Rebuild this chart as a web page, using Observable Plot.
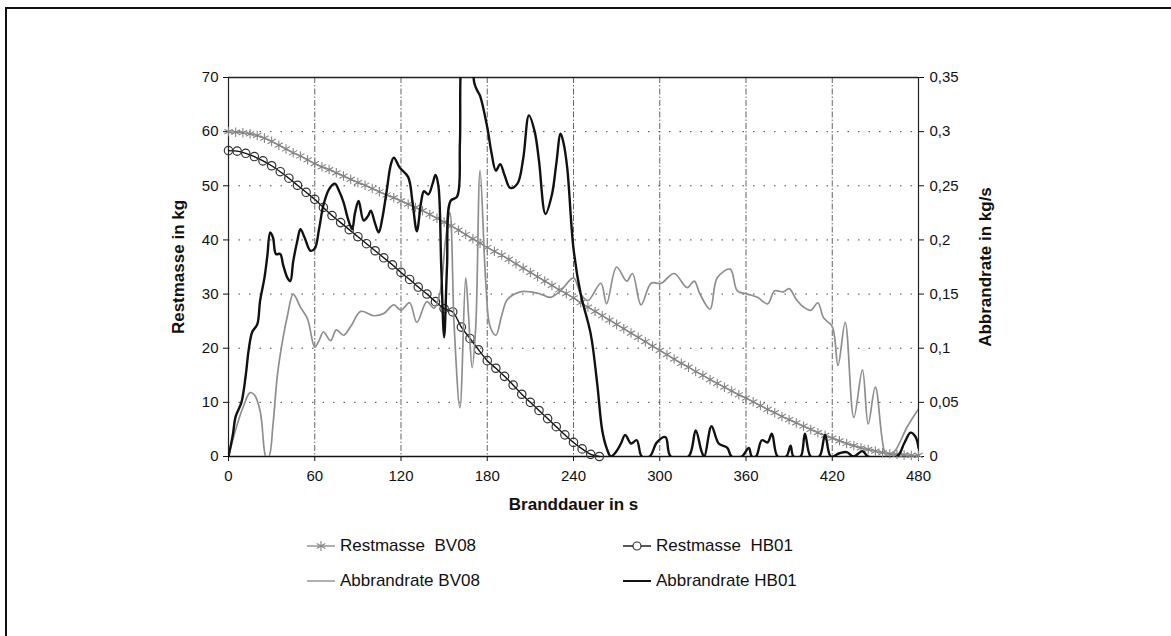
<!DOCTYPE html>
<html>
<head>
<meta charset="utf-8">
<script src="https://cdn.jsdelivr.net/npm/d3@7"></script>
<script src="https://cdn.jsdelivr.net/npm/@observablehq/plot@0.6"></script>
<style>
  html, body { margin: 0; padding: 0; background: #fff; }
  body { width: 1171px; height: 636px; position: relative; overflow: hidden; font-family: "Liberation Sans", Arial, sans-serif; }
  #frame { position: absolute; left: 5px; top: 7px; width: 1200px; height: 700px; border-top: 2px solid #111; border-left: 2px solid #111; pointer-events: none; }
  #chart svg { display: block; }
  #legend { position: relative; height: 111px; font-size: 17px; color: #111; }
  .item { position: absolute; display: flex; align-items: center; white-space: pre; }
  .item svg { margin-right: 3px; }
</style>
</head>
<body>
<div id="chart"></div>
<div id="legend"></div>
<div id="frame"></div>
<script>
// ---------- data ----------
const xTicks = [0, 60, 120, 180, 240, 300, 360, 420, 480];
const yTicks = [0, 10, 20, 30, 40, 50, 60, 70];        // Restmasse in kg
const rateTickLabels = ["0", "0,05", "0,1", "0,15", "0,2", "0,25", "0,3", "0,35"]; // Abbrandrate in kg/s

// Restmasse BV08 (kg), every 5 s from 0 to 480
const massBV08Time = d3.range(0, 481, 5);
const massBV08 = [60.0, 59.9, 59.8, 59.6, 59.3, 58.8, 58.2, 57.5, 56.8, 56.1, 55.5, 54.8, 54.1, 53.5, 53.0, 52.4, 51.8, 51.2, 50.6, 50.1,
  49.5, 48.9, 48.3, 47.8, 47.2, 46.6, 46.0, 45.4, 44.7, 44.0, 43.3, 42.6, 41.8, 41.0, 40.2, 39.4, 38.6, 37.9, 37.2, 36.4,
  35.6, 34.8, 34.0, 33.2, 32.4, 31.6, 30.8, 30.1, 29.3, 28.4, 27.6, 26.8, 26.0, 25.2, 24.4, 23.6, 22.8, 22.0, 21.2, 20.4,
  19.6, 18.8, 18.0, 17.2, 16.5, 15.7, 15.0, 14.2, 13.5, 12.8, 12.1, 11.4, 10.8, 10.1, 9.4, 8.7, 8.1, 7.4, 6.8, 6.2,
  5.6, 5.0, 4.4, 3.9, 3.4, 2.9, 2.4, 2.0, 1.6, 1.3, 1.0, 0.7, 0.5, 0.4, 0.3, 0.2, 0.2];

// Restmasse HB01 (kg), every 6 s from 0 to 258
const massHB01Time = d3.range(0, 259, 6);
const massHB01 = [56.5, 56.4, 56.0, 55.4, 54.6, 53.7, 52.6, 51.4, 50.1, 48.8, 47.5, 46.0, 44.5, 43.2, 41.9, 40.6, 39.3, 38.0, 36.7, 35.4,
  34.0, 32.7, 31.3, 30.0, 28.6, 27.3, 26.7, 23.9, 21.8, 19.7, 17.7, 16.3, 14.8, 13.2, 11.5, 10.0, 8.5, 7.0, 5.5, 4.0,
  2.6, 1.4, 0.4, 0.0];

// Abbrandrate BV08 (kg/s)
const rateBV08Time = [0, 5, 10, 15, 18, 22, 25, 26, 28, 31, 34, 38, 41, 45, 50, 55, 60, 63, 66, 71, 75, 80, 85, 92, 101, 108, 115, 120, 126, 131,
  138, 143, 147, 151, 154, 157, 161, 165, 167, 169.5, 172, 175, 179, 182, 186, 190, 194, 203, 210, 217, 224, 231, 240, 245, 250, 259, 263, 270, 277, 281,
  287, 294, 301, 310, 319, 324, 328, 335, 340, 349, 354, 361, 368, 375, 380, 386, 390, 395, 400, 405, 410, 414, 420, 424, 429, 435, 441, 445, 450, 457,
  460, 465, 472, 480];
const rateBV08 = [0, 0.025, 0.045, 0.059, 0.057, 0.042, 0.005, 0, 0, 0.03, 0.075, 0.11, 0.13, 0.15, 0.138, 0.127, 0.101, 0.107, 0.115, 0.107, 0.117, 0.112, 0.12, 0.134, 0.13, 0.132, 0.14, 0.135, 0.142, 0.124,
  0.143, 0.137, 0.15, 0.2, 0.225, 0.12, 0.045, 0.165, 0.13, 0.082, 0.12, 0.264, 0.16, 0.12, 0.112, 0.13, 0.145, 0.152, 0.152, 0.15, 0.147, 0.153, 0.165, 0.15, 0.144, 0.16, 0.141, 0.175, 0.162, 0.169,
  0.14, 0.16, 0.16, 0.169, 0.156, 0.162, 0.15, 0.136, 0.165, 0.173, 0.153, 0.15, 0.147, 0.141, 0.153, 0.152, 0.155, 0.145, 0.138, 0.135, 0.142, 0.128, 0.12, 0.084, 0.124, 0.036, 0.08, 0.03, 0.064, 0.002,
  0, 0.008, 0.027, 0.044];

// Abbrandrate HB01 (kg/s)
const rateHB01Time = [0, 3, 5, 9, 12, 14, 16.5, 20, 22, 25, 27, 29, 31, 33, 36, 38, 41, 43, 45, 48, 50, 53, 57, 60, 63, 66, 70, 74, 77, 80,
  83, 86, 88, 90.5, 94, 97, 99, 102, 104.5, 107, 110, 113, 115, 119, 125, 128, 131, 134, 136, 139, 142, 144, 146, 148, 150, 152, 154.5, 159, 161, 163,
  166, 169, 171, 173, 175, 180, 183, 186, 189, 192, 196, 201, 205, 209, 213, 216, 220.5, 225, 228, 231, 233, 235.6, 240, 245, 252, 256.5, 260, 263, 266, 270,
  273, 276, 280, 284, 287.5, 293, 298, 304, 307.6, 320, 325, 329, 331, 336, 341, 347, 350, 357, 362, 364, 367, 371, 375, 378, 382, 388, 391, 393, 398, 401,
  405, 411, 415, 419, 425, 430, 435, 441, 445, 465, 470, 474.5, 478, 480];
const rateHB01 = [0, 0.02, 0.037, 0.05, 0.075, 0.098, 0.115, 0.122, 0.144, 0.165, 0.185, 0.207, 0.202, 0.187, 0.187, 0.177, 0.165, 0.162, 0.18, 0.2, 0.21, 0.202, 0.19, 0.192, 0.21, 0.232, 0.247, 0.252, 0.245, 0.235,
  0.22, 0.21, 0.225, 0.236, 0.218, 0.222, 0.227, 0.215, 0.207, 0.22, 0.245, 0.27, 0.276, 0.267, 0.258, 0.235, 0.208, 0.235, 0.245, 0.242, 0.252, 0.26, 0.25, 0.175, 0.11, 0.175, 0.236, 0.24, 0.29, 0.375,
  0.38, 0.37, 0.345, 0.338, 0.333, 0.304, 0.28, 0.264, 0.27, 0.26, 0.248, 0.252, 0.275, 0.315, 0.3, 0.273, 0.224, 0.242, 0.27, 0.298, 0.29, 0.267, 0.192, 0.15, 0.113, 0.067, 0.024, 0.008, 0, 0.005,
  0.012, 0.02, 0.012, 0.015, 0, 0, 0.013, 0.018, 0, 0, 0.024, 0.005, 0, 0.028, 0.012, 0.008, 0, 0, 0.008, 0, 0, 0.015, 0.013, 0.021, 0, 0, 0.01, 0, 0, 0.021,
  0, 0, 0.02, 0, 0.003, 0.004, 0, 0.005, 0, 0, 0.012, 0.022, 0.018, 0.008];

const seriesNames = ["Restmasse  BV08", "Restmasse  HB01", "Abbrandrate BV08", "Abbrandrate HB01"];
const axisTitles = {x: "Branddauer in s", yLeft: "Restmasse in kg", yRight: "Abbrandrate in kg/s"};

// ---------- tables ----------
const rateToKg = 70 / 0.35; // secondary axis: 0..0.35 kg/s mapped onto 0..70 kg
const tMassBV08 = massBV08Time.map((t, i) => ({t, v: massBV08[i]}));
const tMassHB01 = massHB01Time.map((t, i) => ({t, v: massHB01[i]}));
const tRateBV08 = rateBV08Time.map((t, i) => ({t, v: rateBV08[i] * rateToKg}));
const tRateHB01 = rateHB01Time.map((t, i) => ({t, v: rateHB01[i] * rateToKg}));

const grayLine = "#8e8e8e";
const gridDark = "#333";

const chart = Plot.plot({
  width: 1171,
  height: 525,
  marginLeft: 228,
  marginRight: 253,
  marginTop: 77,
  marginBottom: 69,
  x: {domain: [0, 480]},
  y: {domain: [0, 70]},
  style: {fontFamily: "'Liberation Sans', Arial, sans-serif", fontSize: "15px", color: "#111", background: "#fff"},
  marks: [
    Plot.gridY(yTicks.slice(1, -1), {stroke: gridDark, strokeOpacity: 0.9, strokeWidth: 1, strokeDasharray: "1.5,9"}),
    Plot.gridX(xTicks.slice(1, -1), {stroke: gridDark, strokeOpacity: 0.85, strokeWidth: 0.9, strokeDasharray: "6,2,1.5,2"}),
    Plot.ruleY([70], {stroke: "#222", strokeWidth: 1.3}),
    Plot.ruleY([0], {stroke: "#111", strokeWidth: 1.6}),
    Plot.ruleX([0, 480], {stroke: "#222", strokeWidth: 1.2}),
    Plot.axisX({ticks: xTicks, tickSize: 5, tickPadding: 9, label: null, fontSize: 15}),
    Plot.axisY({anchor: "left", ticks: yTicks, tickSize: 5, tickPadding: 5, label: null, fontSize: 15}),
    Plot.axisY({anchor: "right", ticks: yTicks, tickSize: 5, tickPadding: 6, label: null, fontSize: 15,
      tickFormat: d => rateTickLabels[yTicks.indexOf(d)]}),
    // Restmasse BV08
    Plot.line(tMassBV08, {x: "t", y: "v", stroke: grayLine, strokeWidth: 1.5, curve: "catmull-rom"}),
    Plot.dot(tMassBV08, {x: "t", y: "v", symbol: "asterisk", r: 4.5, stroke: "#858585", strokeWidth: 1.1}),
    // Restmasse HB01
    Plot.line(tMassHB01, {x: "t", y: "v", stroke: "#111", strokeWidth: 1.4, curve: "catmull-rom"}),
    Plot.dot(tMassHB01, {x: "t", y: "v", symbol: "circle", r: 4.2, stroke: "#333", strokeWidth: 1.2, fill: "none"}),
    // Abbrandrate BV08
    Plot.line(tRateBV08, {x: "t", y: "v", stroke: grayLine, strokeWidth: 1.7, curve: "catmull-rom", clip: true}),
    // Abbrandrate HB01
    Plot.line(tRateHB01, {x: "t", y: "v", stroke: "#111", strokeWidth: 2.4, curve: "catmull-rom", clip: true}),
    // axis titles
    Plot.text([axisTitles.yLeft], {frameAnchor: "left", dx: -50, rotate: -90, textAnchor: "middle", fontWeight: "bold", fontSize: 17}),
    Plot.text([axisTitles.yRight], {frameAnchor: "right", dx: 67, rotate: -90, textAnchor: "middle", fontWeight: "bold", fontSize: 17}),
    Plot.text([axisTitles.x], {frameAnchor: "bottom", dy: 53, textAnchor: "middle", fontWeight: "bold", fontSize: 17})
  ]
});
document.getElementById("chart").appendChild(chart);

// ---------- legend ----------
const legend = d3.select("#legend");
const items = [
  {name: seriesNames[0], left: 305, top: 9, kind: "asterisk"},
  {name: seriesNames[1], left: 621, top: 9, kind: "circle"},
  {name: seriesNames[2], left: 305, top: 44, kind: "gray"},
  {name: seriesNames[3], left: 621, top: 44, kind: "black"}
];
for (const it of items) {
  const div = legend.append("div").attr("class", "item").style("left", it.left + "px").style("top", it.top + "px");
  const s = div.append("svg").attr("width", 32).attr("height", 24);
  const col = (it.kind === "asterisk" || it.kind === "gray") ? grayLine : "#111";
  s.append("line").attr("x1", 2).attr("x2", 30).attr("y1", 12).attr("y2", 12)
    .attr("stroke", col).attr("stroke-width", it.kind === "black" ? 2 : 1.4);
  if (it.kind === "asterisk") {
    s.append("path").attr("d", d3.symbol(d3.symbolAsterisk, 70)()).attr("transform", "translate(16,12)")
      .attr("stroke", "#858585").attr("stroke-width", 1.1).attr("fill", "none");
  } else if (it.kind === "circle") {
    s.append("circle").attr("cx", 16).attr("cy", 12).attr("r", 4).attr("stroke", "#333").attr("stroke-width", 1.2).attr("fill", "#fff");
  }
  div.append("span").text(it.name);
}
</script>
</body>
</html>
